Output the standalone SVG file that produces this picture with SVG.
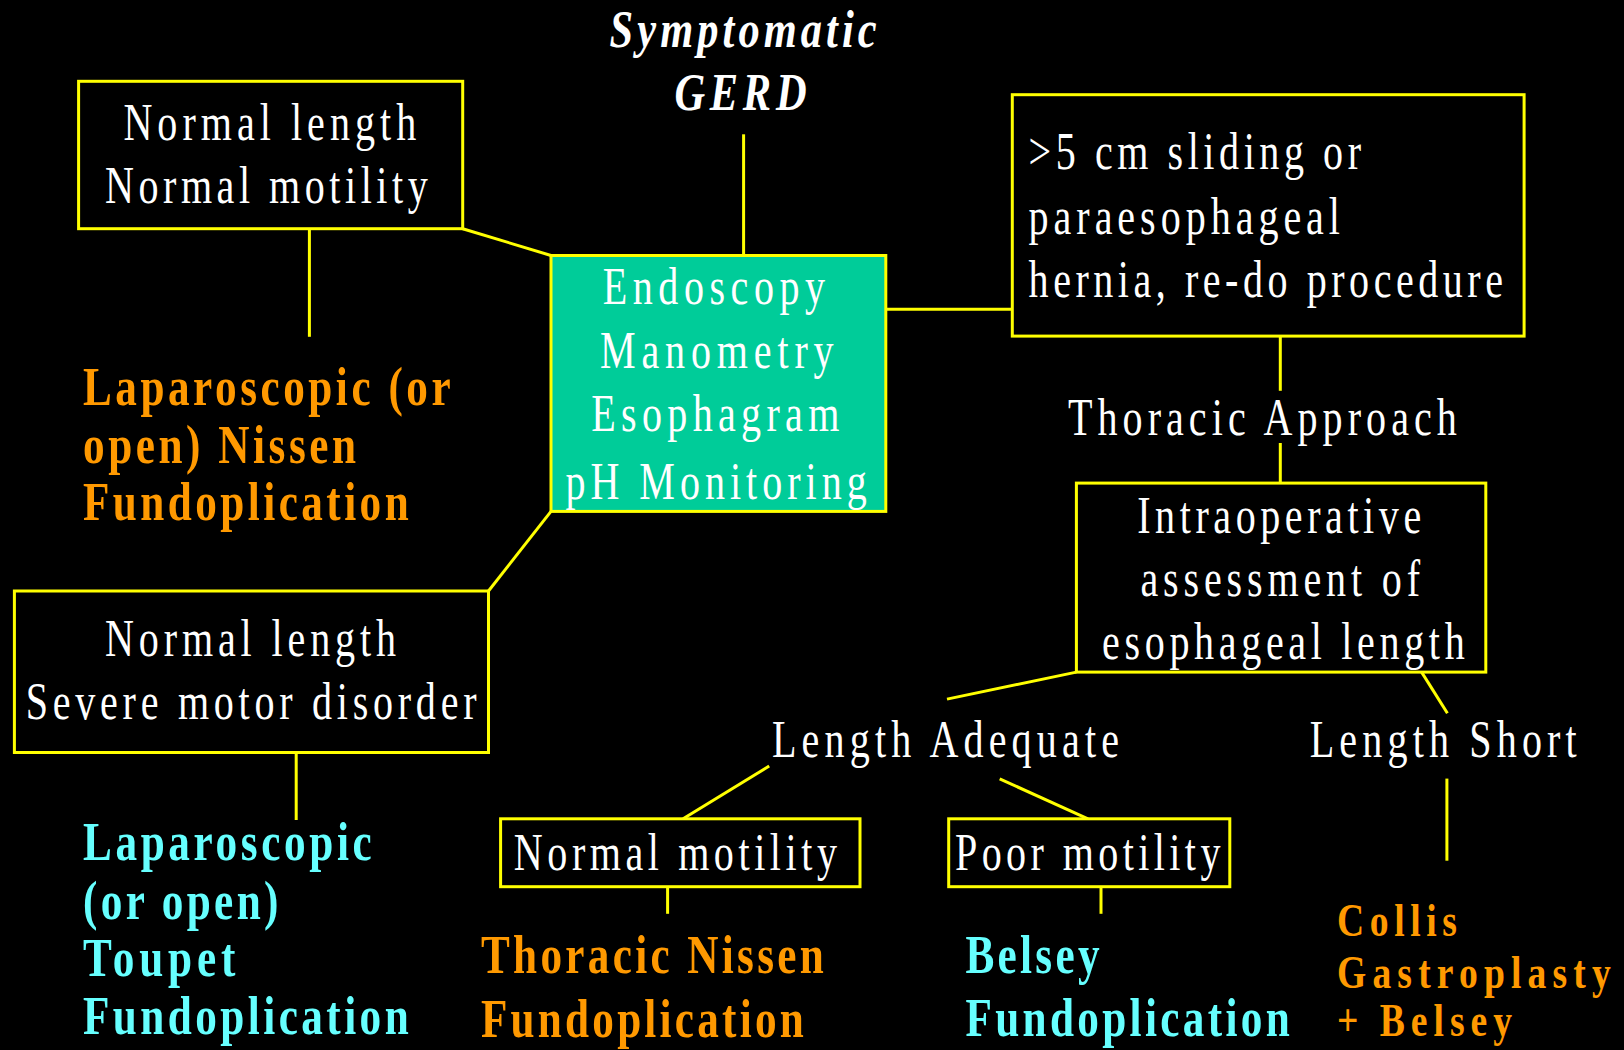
<svg xmlns="http://www.w3.org/2000/svg" width="1624" height="1050" viewBox="0 0 1624 1050">
<style>
.bx{fill:#000;stroke:#FFFF00;stroke-width:3}
.gr{fill:#00CC99;stroke:#FFFF00;stroke-width:3}
.ln{stroke:#FFFF00;stroke-width:3;fill:none}
.t{font-family:"Liberation Serif","Times New Roman",serif;font-size:52px;fill:#fff}
.it{font-family:"Liberation Serif","Times New Roman",serif;font-size:53px;font-style:italic;font-weight:bold;fill:#fff}
.b{font-family:"Liberation Serif","Times New Roman",serif;font-size:54px;font-weight:bold}
.sm{font-size:47px}
.or{fill:#FF9900}
.cy{fill:#66FFFF}
</style>
<rect width="1624" height="1050" fill="#000"/>
<g id="connectors">
<line class="ln" x1="743.6" y1="134.3" x2="743.6" y2="255.5"/>
<line class="ln" x1="462.7" y1="228.7" x2="551" y2="255.5"/>
<line class="ln" x1="309.4" y1="229" x2="309.4" y2="336.8"/>
<line class="ln" x1="885.5" y1="309.2" x2="1012.3" y2="309.2"/>
<line class="ln" x1="551" y1="511.4" x2="488.5" y2="591"/>
<line class="ln" x1="296.2" y1="752.5" x2="296.2" y2="820"/>
<line class="ln" x1="1280.3" y1="336.1" x2="1280.3" y2="390.8"/>
<line class="ln" x1="1280.3" y1="443" x2="1280.3" y2="483.1"/>
<line class="ln" x1="1076.4" y1="672.1" x2="947" y2="699.1"/>
<line class="ln" x1="1421.6" y1="672.1" x2="1447.4" y2="713.3"/>
<line class="ln" x1="769.2" y1="766" x2="683.1" y2="818.8"/>
<line class="ln" x1="999.7" y1="778.9" x2="1088" y2="818.8"/>
<line class="ln" x1="667.6" y1="886.7" x2="667.6" y2="913.8"/>
<line class="ln" x1="1101" y1="886.7" x2="1101" y2="913.8"/>
<line class="ln" x1="1446.9" y1="778.6" x2="1446.9" y2="860.7"/>
</g>
<g id="gerd">
<text class="it" transform="translate(609.6,46.5) scale(0.8,1)" textLength="333.8" lengthAdjust="spacing">Symptomatic</text>
<text class="it" transform="translate(674.5,110.2) scale(0.8,1)" textLength="165" lengthAdjust="spacing">GERD</text>
</g>
<g id="box-normal-normal">
<rect class="bx" x="78.6" y="81.3" width="384.1" height="147.4"/>
<text class="t" transform="translate(123.4,139.5) scale(0.77,1)" textLength="380.3" lengthAdjust="spacing">Normal length</text>
<text class="t" transform="translate(105,203) scale(0.77,1)" textLength="419.1" lengthAdjust="spacing">Normal motility</text>
</g>
<g id="lap-nissen">
<text class="b or" transform="translate(83,404.6) scale(0.8,1)" textLength="459.5" lengthAdjust="spacing">Laparoscopic (or</text>
<text class="b or" transform="translate(83,463) scale(0.8,1)" textLength="341.3" lengthAdjust="spacing">open) Nissen</text>
<text class="b or" transform="translate(83,520) scale(0.8,1)" textLength="407.1" lengthAdjust="spacing">Fundoplication</text>
</g>
<g id="tests">
<rect class="gr" x="551" y="255.5" width="334.8" height="255.9"/>
<text class="t" transform="translate(602.8,303.7) scale(0.77,1)" textLength="288.6" lengthAdjust="spacing">Endoscopy</text>
<text class="t" transform="translate(600,367.8) scale(0.77,1)" textLength="303.4" lengthAdjust="spacing">Manometry</text>
<text class="t" transform="translate(591.3,431.1) scale(0.77,1)" textLength="322.1" lengthAdjust="spacing">Esophagram</text>
<text class="t" transform="translate(565.4,498.6) scale(0.77,1)" textLength="391.4" lengthAdjust="spacing">pH Monitoring</text>
</g>
<g id="box-hernia">
<rect class="bx" x="1012.3" y="94.7" width="511.8" height="241.4"/>
<text class="t" transform="translate(1028.6,169.4) scale(0.77,1)" textLength="431.7" lengthAdjust="spacing">&gt;5 cm sliding or</text>
<text class="t" transform="translate(1028.6,233.5) scale(0.77,1)" textLength="404.4" lengthAdjust="spacing">paraesophageal</text>
<text class="t" transform="translate(1028.6,296.8) scale(0.77,1)" textLength="616.1" lengthAdjust="spacing">hernia, re-do procedure</text>
</g>
<g id="thoracic-approach">
<text class="t" transform="translate(1068,434.6) scale(0.77,1)" textLength="505" lengthAdjust="spacing">Thoracic Approach</text>
</g>
<g id="box-intraop">
<rect class="bx" x="1076.4" y="483.1" width="409.4" height="189"/>
<text class="t" transform="translate(1137.2,532.6) scale(0.77,1)" textLength="368.8" lengthAdjust="spacing">Intraoperative</text>
<text class="t" transform="translate(1140.5,596) scale(0.77,1)" textLength="363" lengthAdjust="spacing">assessment of</text>
<text class="t" transform="translate(1102,659.3) scale(0.77,1)" textLength="471" lengthAdjust="spacing">esophageal length</text>
</g>
<g id="length-adequate">
<text class="t" transform="translate(772,756.6) scale(0.77,1)" textLength="450.6" lengthAdjust="spacing">Length Adequate</text>
</g>
<g id="length-short">
<text class="t" transform="translate(1309.7,756.6) scale(0.77,1)" textLength="346.8" lengthAdjust="spacing">Length Short</text>
</g>
<g id="box-severe">
<rect class="bx" x="14.4" y="591" width="474.1" height="161.5"/>
<text class="t" transform="translate(105,655.9) scale(0.77,1)" textLength="377.9" lengthAdjust="spacing">Normal length</text>
<text class="t" transform="translate(25.8,719.4) scale(0.77,1)" textLength="585.3" lengthAdjust="spacing">Severe motor disorder</text>
</g>
<g id="lap-toupet">
<text class="b cy" transform="translate(83,859.7) scale(0.8,1)" textLength="361" lengthAdjust="spacing">Laparoscopic</text>
<text class="b cy" transform="translate(83,918.9) scale(0.8,1)" textLength="244.3" lengthAdjust="spacing">(or open)</text>
<text class="b cy" transform="translate(83,976.3) scale(0.8,1)" textLength="190.5" lengthAdjust="spacing">Toupet</text>
<text class="b cy" transform="translate(83,1033.8) scale(0.8,1)" textLength="407.1" lengthAdjust="spacing">Fundoplication</text>
</g>
<g id="box-normal-motility">
<rect class="bx" x="500.6" y="818.8" width="359.4" height="67.9"/>
<text class="t" transform="translate(513.8,869.8) scale(0.77,1)" textLength="419.7" lengthAdjust="spacing">Normal motility</text>
</g>
<g id="thoracic-nissen">
<text class="b or" transform="translate(481,973) scale(0.8,1)" textLength="428.5" lengthAdjust="spacing">Thoracic Nissen</text>
<text class="b or" transform="translate(481,1036.5) scale(0.8,1)" textLength="403.4" lengthAdjust="spacing">Fundoplication</text>
</g>
<g id="box-poor-motility">
<rect class="bx" x="948.7" y="818.8" width="281.1" height="67.9"/>
<text class="t" transform="translate(955,869.8) scale(0.77,1)" textLength="344.7" lengthAdjust="spacing">Poor motility</text>
</g>
<g id="belsey">
<text class="b cy" transform="translate(965.5,972.9) scale(0.8,1)" textLength="167.5" lengthAdjust="spacing">Belsey</text>
<text class="b cy" transform="translate(965.5,1035.5) scale(0.8,1)" textLength="405.4" lengthAdjust="spacing">Fundoplication</text>
</g>
<g id="collis">
<text class="b sm or" transform="translate(1337,936.4) scale(0.8,1)" textLength="150" lengthAdjust="spacing">Collis</text>
<text class="b sm or" transform="translate(1337,987.5) scale(0.8,1)" textLength="342.3" lengthAdjust="spacing">Gastroplasty</text>
<text class="b sm or" transform="translate(1337,1035.5) scale(0.8,1)" textLength="218.8" lengthAdjust="spacing">+ Belsey</text>
</g>
</svg>
